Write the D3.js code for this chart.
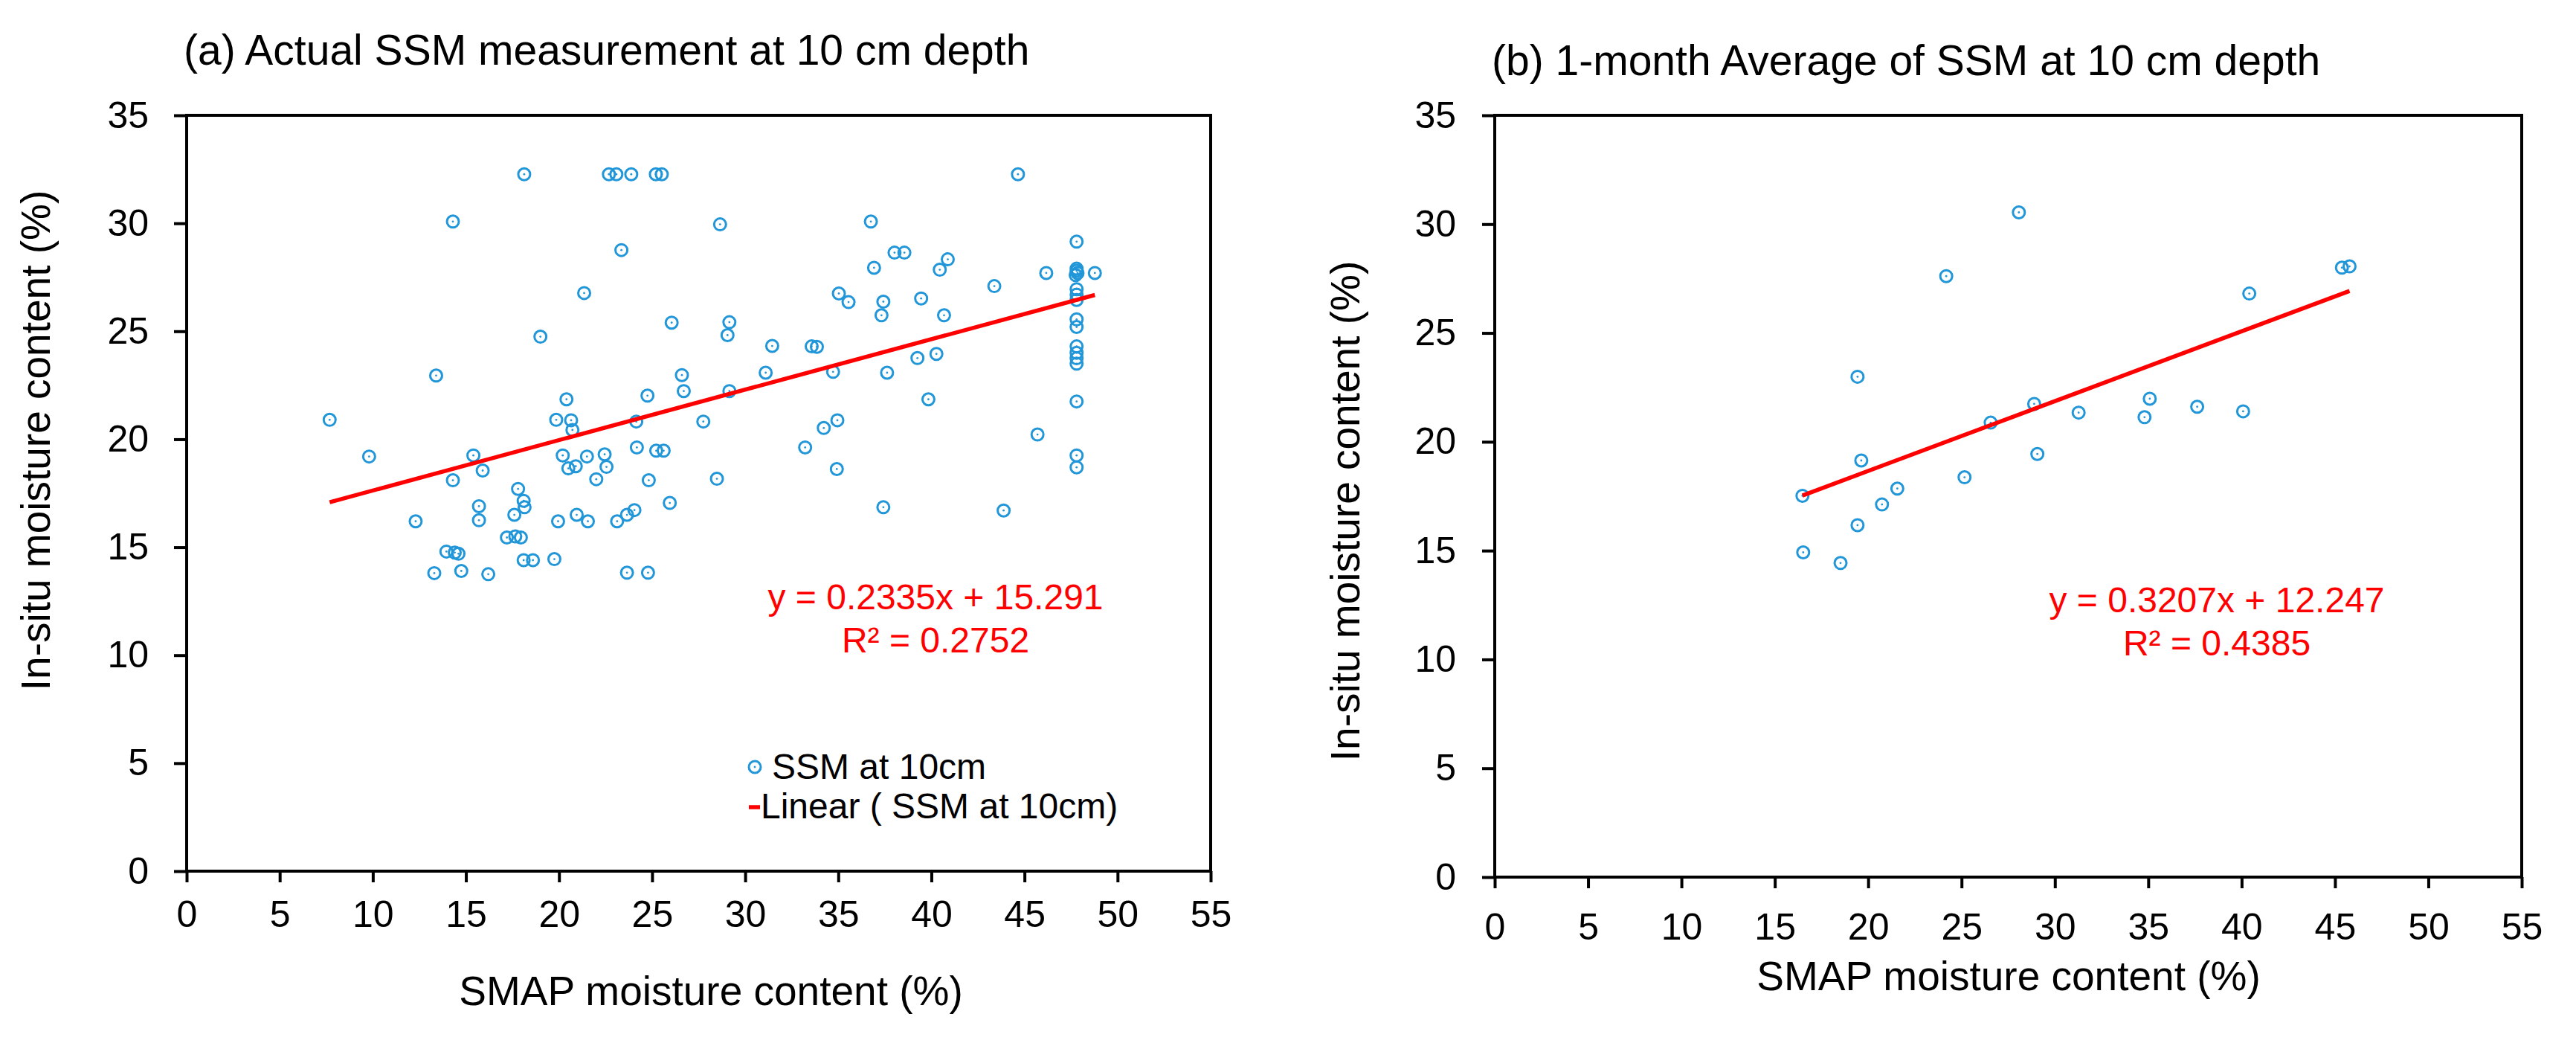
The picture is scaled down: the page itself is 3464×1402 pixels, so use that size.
<!DOCTYPE html>
<html>
<head>
<meta charset="utf-8">
<script src="https://cdn.jsdelivr.net/npm/d3@7"></script>
<style>
  body { margin: 0; background: #fff; }
  svg text { font-family: Arial, "Liberation Sans", sans-serif; }
</style>
</head>
<body>
<svg id="chart"></svg>
<script>
// tick labels shared by both panels
const xTickValues = [0, 5, 10, 15, 20, 25, 30, 35, 40, 45, 50, 55]
const yTickValues = [0, 5, 10, 15, 20, 25, 30, 35]

// (a) actual SSM at 10 cm: [SMAP %, in-situ %]
const ssmActual = [
  [7.68, 20.9], [9.8, 19.2], [12.3, 16.2], [13.4, 22.95], [13.3, 13.8], [14.3, 30.08],
  [14.3, 18.1], [13.95, 14.8], [14.4, 14.75], [14.6, 14.7], [14.75, 13.9], [15.4, 19.25],
  [15.9, 18.55], [15.7, 16.9], [15.7, 16.25], [16.2, 13.75], [17.2, 15.45], [17.65, 15.5],
  [17.95, 15.45], [17.6, 16.5], [17.8, 17.7], [18.1, 17.15], [18.15, 16.85], [18.13, 32.27],
  [18.1, 14.4], [18.6, 14.4], [19.0, 24.75], [19.75, 14.45], [19.85, 20.9], [19.95, 16.2],
  [20.2, 19.25], [20.4, 21.85], [20.5, 18.65], [20.65, 20.88], [20.72, 20.43], [20.9, 18.75],
  [20.95, 16.5], [21.35, 26.77], [21.5, 19.2], [21.55, 16.2], [22.0, 18.15], [22.45, 19.3],
  [22.55, 18.72], [22.68, 32.27], [23.08, 32.27], [23.35, 28.76], [23.12, 16.2], [23.65, 16.5],
  [23.65, 13.82], [24.05, 16.72], [23.88, 32.27], [24.15, 20.82], [24.18, 19.62], [24.75, 22.02],
  [24.82, 18.1], [24.78, 13.82], [25.22, 19.47], [25.2, 32.27], [25.52, 32.27], [25.62, 19.47],
  [25.95, 17.05], [26.05, 25.4], [26.6, 22.97], [26.7, 22.23], [27.75, 20.82], [28.48, 18.17],
  [28.65, 29.95], [29.05, 24.82], [29.15, 25.42], [29.15, 22.23],
  [31.1, 23.08], [31.45, 24.32], [33.22, 19.62], [33.57, 24.3], [33.85, 24.28], [34.22, 20.52],
  [34.72, 23.12], [34.92, 18.62], [34.95, 20.88], [35.03, 26.75], [35.55, 26.35], [36.75, 30.08],
  [36.92, 27.94], [37.32, 25.74], [37.42, 26.37], [37.62, 23.08], [37.42, 16.85], [38.02, 28.64],
  [38.55, 28.64], [39.25, 23.76], [39.45, 26.52], [39.84, 21.85], [40.27, 23.95], [40.45, 27.85],
  [40.68, 25.74], [40.88, 28.33], [43.38, 27.09], [43.88, 16.7], [44.65, 32.27], [45.7, 20.22],
  [46.17, 27.7],
  [47.8, 29.15], [47.8, 27.9], [47.8, 27.8], [47.85, 27.7], [47.75, 27.6], [47.8, 26.95],
  [47.8, 26.7], [47.8, 26.45], [47.8, 25.55], [47.8, 25.2], [47.8, 24.3], [47.8, 24.0],
  [47.8, 23.75], [47.8, 23.5], [47.8, 21.75], [47.8, 19.25], [47.8, 18.7], [48.78, 27.7]
]

// (b) 1-month average: [SMAP %, in-situ %]
const ssmMonthly = [
  [16.48, 17.52], [16.52, 14.92], [18.52, 14.43], [19.43, 22.99], [19.63, 19.14], [19.43, 16.17],
  [20.74, 17.12], [21.56, 17.85], [24.18, 27.61], [25.16, 18.37], [26.56, 20.88], [28.07, 30.54],
  [28.89, 21.74], [29.06, 19.44], [31.27, 21.34], [34.8, 21.13], [35.08, 21.98], [37.62, 21.61],
  [40.08, 21.4], [40.41, 26.81], [45.37, 28.0], [45.78, 28.06]
]

// trendline coefficients as printed on the chart
const fitA = [0.2335, 15.291]
const fitB = [0.3207, 12.247]
const fitTextA = ['y = 0.2335x + 15.291', 'R² = 0.2752']
const fitTextB = ['y = 0.3207x + 12.247', 'R² = 0.4385']
const legendLabels = ['SSM at 10cm', 'Linear ( SSM at 10cm)']

const W = 3464, H = 1402
const blue = '#2196d8', red = '#ff0000'

const svg = d3.select('#chart')
    .attr('width', W)
    .attr('height', H)
svg.append('rect').attr('width', W).attr('height', H).attr('fill', '#fff')

function drawPanel(p) {
    const x = d3.scaleLinear().domain([0, 55]).range([p.left, p.right])
    const y = d3.scaleLinear().domain([0, 35]).range([p.bottom, p.top])
    const g = svg.append('g')

    // axes
    const gx = g.append('g')
        .attr('transform', `translate(0,${p.bottom})`)
        .call(d3.axisBottom(x).tickValues(xTickValues).tickSize(15).tickSizeOuter(0)
            .tickPadding(p.xPad).tickFormat(d3.format('d')))
    const gy = g.append('g')
        .attr('transform', `translate(${p.left},0)`)
        .call(d3.axisLeft(y).tickValues(yTickValues).tickSize(17).tickSizeOuter(0)
            .tickPadding(p.yPad).tickFormat(d3.format('d')))
    for (const a of [gx, gy]) {
        a.attr('font-size', 50)
        a.select('.domain').remove()
        a.selectAll('line').attr('stroke', '#000').attr('stroke-width', 4)
        a.selectAll('text').attr('fill', '#000')
    }

    // frame
    g.append('rect')
        .attr('x', p.left).attr('y', p.top)
        .attr('width', p.right - p.left).attr('height', p.bottom - p.top)
        .attr('fill', 'none').attr('stroke', '#000').attr('stroke-width', 4)

    // points
    const pts = g.append('g').selectAll('g').data(p.data).enter().append('g')
        .attr('transform', d => `translate(${x(d[0])},${y(d[1])})`)
    pts.append('circle').attr('r', 8).attr('fill', 'none')
        .attr('stroke', blue).attr('stroke-width', 3)
    pts.append('circle').attr('r', 1.4).attr('fill', blue)

    // trendline
    const ext = d3.extent(p.data, d => d[0])
    g.append('line')
        .attr('x1', x(ext[0])).attr('y1', y(p.fit[0] * ext[0] + p.fit[1]))
        .attr('x2', x(ext[1])).attr('y2', y(p.fit[0] * ext[1] + p.fit[1]))
        .attr('stroke', red).attr('stroke-width', 5.5)

    g.append('g').selectAll('text').data(p.fitText).enter().append('text')
        .attr('x', p.fitX).attr('y', (d, i) => p.fitY + i * 58)
        .attr('text-anchor', 'middle').attr('font-size', 48).attr('fill', red)
        .text(d => d)

    // titles
    g.append('text').attr('x', p.left - 4).attr('y', p.titleY)
        .attr('font-size', 57).text(p.title)
    g.append('text').attr('x', p.xTitleX).attr('y', p.xTitleY)
        .attr('text-anchor', 'middle').attr('font-size', 55)
        .text('SMAP moisture content (%)')
    g.append('text')
        .attr('transform', `translate(${p.yTitleX},${p.yTitleY}) rotate(-90)`)
        .attr('text-anchor', 'middle').attr('font-size', 55)
        .text('In-situ moisture content (%)')
    return g
}

const ga = drawPanel({
    left: 251, right: 1628, top: 155, bottom: 1171, xPad: 24, yPad: 34,
    data: ssmActual, fit: fitA, fitText: fitTextA, fitX: 1258, fitY: 819,
    title: '(a) Actual SSM measurement at 10 cm depth', titleY: 87,
    xTitleX: 956, xTitleY: 1351, yTitleX: 67, yTitleY: 592
})

drawPanel({
    left: 2010, right: 3391, top: 155, bottom: 1179, xPad: 33, yPad: 35,
    data: ssmMonthly, fit: fitB, fitText: fitTextB, fitX: 2981, fitY: 823,
    title: '(b) 1-month Average of SSM at 10 cm depth', titleY: 101,
    xTitleX: 2701, xTitleY: 1331, yTitleX: 1828, yTitleY: 687
})

// legend for panel (a)
const leg = ga.append('g')
leg.append('circle').attr('cx', 1015).attr('cy', 1031).attr('r', 8)
    .attr('fill', 'none').attr('stroke', blue).attr('stroke-width', 3)
leg.append('circle').attr('cx', 1015).attr('cy', 1031).attr('r', 1.4).attr('fill', blue)
leg.append('line').attr('x1', 1007).attr('x2', 1022).attr('y1', 1085).attr('y2', 1085)
    .attr('stroke', red).attr('stroke-width', 5.5)
leg.selectAll('text.lg').data(legendLabels).enter().append('text')
    .attr('x', (d, i) => i ? 1023 : 1038).attr('y', (d, i) => 1047 + i * 53)
    .attr('font-size', 48).attr('fill', '#000').text(d => d)
</script>
</body>
</html>
